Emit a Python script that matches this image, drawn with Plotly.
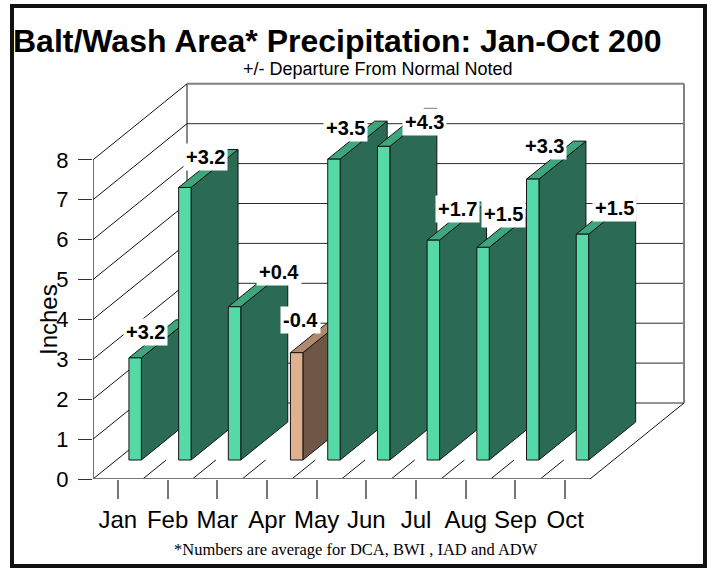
import plotly.graph_objects as go

# ---------------- data ----------------
MONTHS = ["Jan", "Feb", "Mar", "Apr", "May", "Jun", "Jul", "Aug", "Sep", "Oct"]
PRECIP = [2.56, 6.83, 3.84, 2.69, 7.54, 7.86, 5.51, 5.33, 7.04, 5.66]
DEPARTURE = ["+3.2", "+3.2", "+0.4", "-0.4", "+3.5", "+4.3", "+1.7", "+1.5", "+3.3", "+1.5"]
Y_TICKS = [0, 1, 2, 3, 4, 5, 6, 7, 8]

TITLE = "Balt/Wash Area* Precipitation: Jan-Oct 200"
SUBTITLE = "+/- Departure From Normal Noted"
FOOTNOTE = "*Numbers are average for DCA, BWI , IAD and ADW"
Y_TITLE = "Inches"

# ---------------- style / geometry ----------------
W, H = 712, 573
PLOT_L, PLOT_T, PLOT_R, PLOT_B = 93, 82, 27, 94
PLOT_W = W - PLOT_L - PLOT_R
PLOT_H = H - PLOT_T - PLOT_B
PX_PER_CAT = 49.7
PX_PER_IN = 39.9
DX = 94 / PX_PER_CAT      # depth offset in category units
DY = 76 / PX_PER_IN       # depth offset in inches
D0, D1 = 0.25, 0.75       # bar depth extent (fraction of box depth)
SLOT_W = 0.25             # bar width in category units
NCAT = len(MONTHS)
YMAX = Y_TICKS[-1]

UP = dict(front="#55DAA7", top="#3DA67C", side="#2B6B55")
DOWN = dict(front="#E0B08F", top="#AF8A6F", side="#6E5747")
EDGE = "#151515"
FONT = "Arial, Liberation Sans, Helvetica, sans-serif"
SERIF = "Times New Roman, Liberation Serif, serif"

# label nudges in pixels (relative to bar front-top-left corner)
LABEL_NUDGE = [(17, 26), (27, 30), (51, 35), (10, 33), (18, 31),
               (47, 24), (30, 31), (27, 33), (18, 33), (38, 26)]


def proj(u, v, d):
    return u + d * DX, v + d * DY


def poly(points, fill, width=1, color=EDGE):
    xs = [p[0] for p in points] + [points[0][0]]
    ys = [p[1] for p in points] + [points[0][1]]
    return go.Scatter(x=xs, y=ys, mode="lines", fill="toself", fillcolor=fill,
                      line=dict(color=color, width=width), hoverinfo="skip",
                      showlegend=False)


def lines(segs, color, width):
    xs, ys = [], []
    for (a, b) in segs:
        xs += [a[0], b[0], None]
        ys += [a[1], b[1], None]
    return go.Scatter(x=xs, y=ys, mode="lines", line=dict(color=color, width=width),
                      hoverinfo="skip", showlegend=False, cliponaxis=False)


fig = go.Figure()

# back wall gridlines (0..7)
fig.add_trace(lines([(proj(0, t, 1), proj(NCAT, t, 1)) for t in Y_TICKS[:-1]], "#2a2a2a", 1))
# left wall diagonal gridlines
fig.add_trace(lines([(proj(0, t, 0), proj(0, t, 1)) for t in Y_TICKS], "#111", 1))
# back-left vertical edge
fig.add_trace(lines([(proj(0, 0, 1), proj(0, YMAX, 1))], "#111", 1))
# back wall top & right edges
fig.add_trace(lines([(proj(0, YMAX, 1), proj(NCAT, YMAX, 1)),
                     (proj(NCAT, YMAX, 1), proj(NCAT, 0, 1))], "#808080", 2))
# front-left axis line
fig.add_trace(lines([(proj(0, 0, 0), proj(0, YMAX, 0))], "#111", 1.2))
# floor right edge
fig.add_trace(lines([(proj(NCAT, 0, 0), proj(NCAT, 0, 1))], "#111", 1))
# floor short depth strokes
fig.add_trace(lines([(proj(k, 0, 0), proj(k, 0, D0)) for k in range(1, NCAT)], "#111", 1))
# floor front edge
fig.add_trace(lines([(proj(0, 0, 0), proj(NCAT, 0, 0))], "#777", 2))

# bars (left to right so right bars cover left side faces)
annotations = []
for i, (val, dep) in enumerate(zip(PRECIP, DEPARTURE)):
    below = dep.startswith("-")
    col = DOWN if below else UP
    center = i + 0.5
    uL = center if below else center - SLOT_W
    uR = uL + SLOT_W
    side = [proj(uR, 0, D0), proj(uR, 0, D1), proj(uR, val, D1), proj(uR, val, D0)]
    top = [proj(uL, val, D0), proj(uR, val, D0), proj(uR, val, D1), proj(uL, val, D1)]
    front = [proj(uL, 0, D0), proj(uR, 0, D0), proj(uR, val, D0), proj(uL, val, D0)]
    fig.add_trace(poly(side, col["side"]))
    fig.add_trace(poly(top, col["top"]))
    fig.add_trace(poly(front, col["front"]))
    ax, ay = proj(uL, val, D0)
    nx, ny = LABEL_NUDGE[i]
    annotations.append(dict(x=ax, y=ay, xref="x", yref="y", text="<b>%s</b>" % dep,
                            showarrow=False, xshift=nx, yshift=ny,
                            font=dict(family=FONT, size=20, color="#000"),
                            bgcolor="#ffffff", borderpad=2, xanchor="center", yanchor="middle"))


def paper_x(px):
    return (px - PLOT_L) / PLOT_W


def paper_y(py):
    return (PLOT_T + PLOT_H - py) / PLOT_H


annotations += [
    dict(x=paper_x(337), y=paper_y(41), xref="paper", yref="paper", text="<b>%s</b>" % TITLE,
         showarrow=False, font=dict(family=FONT, size=32, color="#000"), xanchor="center", yanchor="middle"),
    dict(x=paper_x(378), y=paper_y(69), xref="paper", yref="paper", text=SUBTITLE,
         showarrow=False, font=dict(family=FONT, size=18, color="#000"), xanchor="center", yanchor="middle"),
    dict(x=paper_x(356), y=paper_y(549), xref="paper", yref="paper", text=FOOTNOTE,
         showarrow=False, font=dict(family=SERIF, size=16.5, color="#000"), xanchor="center", yanchor="middle"),
    dict(x=paper_x(48), y=paper_y(320), xref="paper", yref="paper", text=Y_TITLE, textangle=-90,
         showarrow=False, font=dict(family=FONT, size=24, color="#000"), xanchor="center", yanchor="middle"),
]

fig.update_layout(
    width=W, height=H,
    margin=dict(l=PLOT_L, r=PLOT_R, t=PLOT_T, b=PLOT_B, pad=0),
    paper_bgcolor="#ffffff", plot_bgcolor="#ffffff",
    showlegend=False,
    annotations=annotations,
    shapes=[dict(type="rect", xref="paper", yref="paper",
                 x0=paper_x(12), x1=paper_x(705), y0=paper_y(6), y1=paper_y(566),
                 line=dict(color="#111", width=4), fillcolor="rgba(0,0,0,0)", layer="above")],
    xaxis=dict(range=[0, PLOT_W / PX_PER_CAT], tickvals=[i + 0.5 for i in range(NCAT)],
               ticktext=MONTHS, ticks="outside", ticklen=19, tickcolor="#777", tickwidth=1.5,
               showgrid=False, zeroline=False, showline=False, fixedrange=True,
               tickfont=dict(family=FONT, size=24, color="#000")),
    yaxis=dict(range=[0, PLOT_H / PX_PER_IN], tickvals=Y_TICKS, ticktext=[str(t) for t in Y_TICKS],
               ticks="outside", ticklen=14, tickcolor="#333", tickwidth=1.2,
               showgrid=False, zeroline=False, showline=False, fixedrange=True,
               ticklabelstandoff=5,
               tickfont=dict(family=FONT, size=22, color="#000")),
)

fig.write_html("out.html", config={"displayModeBar": False},
               post_script="document.body.style.margin='0px';")
